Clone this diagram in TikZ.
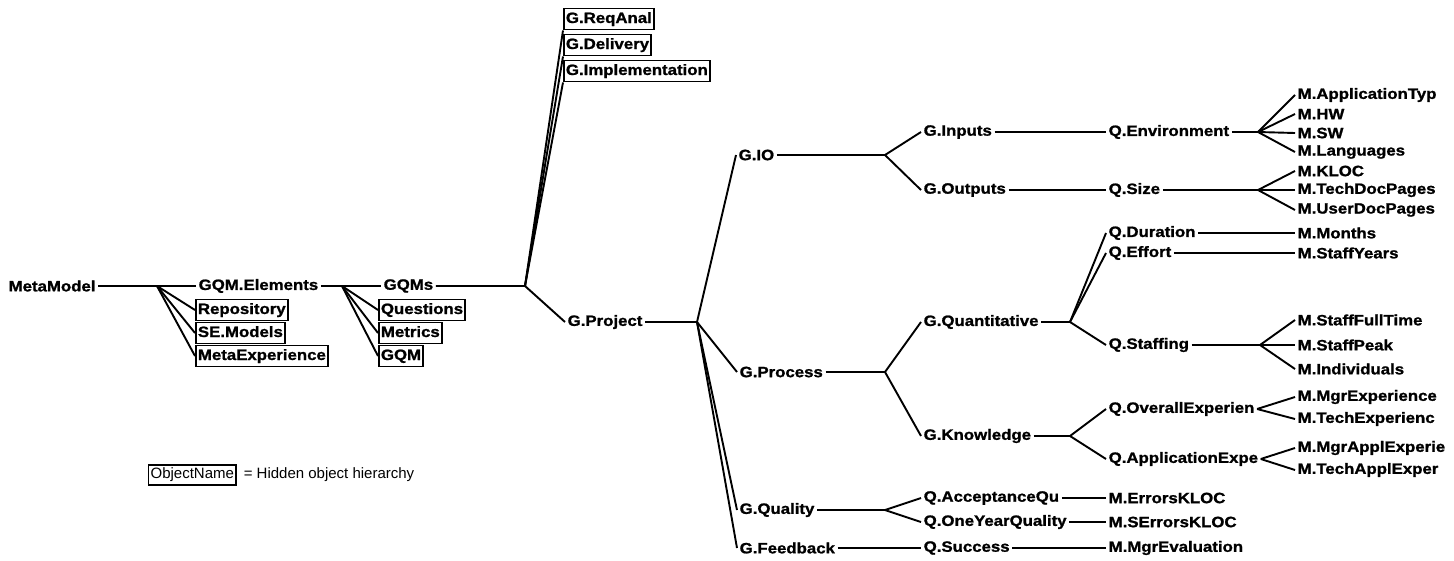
\documentclass[tikz,border=0pt]{standalone}
\usepackage{fontspec}
\newfontfamily\lblfont{Liberation Sans}[FakeStretch=1.12, BoldFeatures={FakeBold=1.2}]
\newfontfamily\legfont{Liberation Sans}
\begin{document}
\begin{tikzpicture}[x=1pt,y=-1pt,
  lbl/.style={anchor=west, inner xsep=2.5pt, inner ysep=1pt,
    font=\lblfont\bfseries\fontsize{15}{17}\selectfont},
  hid/.style={lbl, draw, line width=1.9pt, inner xsep=2pt,
    text height=11pt, text depth=3pt, inner ysep=3.5pt},
  wire/.style={line width=1.9pt, line join=round}]
\useasboundingbox (0,0) rectangle (1454,560);

% ---- meta level ----
\node[lbl] (meta) at (6,286) {MetaModel};
\coordinate (fA) at (157,286);
\node[lbl] (gqmel) at (196,286) {GQM.Elements};
\node[hid] (repo) at (195,310) {Repository};
\node[hid] (semod) at (195,333) {SE.Models};
\node[hid] (metaexp) at (195,356) {MetaExperience};

\coordinate (fB) at (342,286);
\node[lbl] (gqms) at (381,286) {GQMs};
\node[hid] (quest) at (378,310) {Questions};
\node[hid] (metr) at (378,333) {Metrics};
\node[hid] (gqmb) at (378,356) {GQM};

\coordinate (fC) at (525,286);
\node[hid] (reqanal) at (563,19) {G.ReqAnal};
\node[hid] (deliv) at (563,45) {G.Delivery};
\node[hid] (impl) at (563,71) {G.Implementation};
\node[lbl] (proj) at (565,322) {G.Project};

% ---- goals ----
\coordinate (fD) at (697,322);
\node[lbl] (gio) at (736,155) {G.IO};
\node[lbl] (proc) at (737,372) {G.Process};
\node[lbl] (qual) at (737,510) {G.Quality};
\node[lbl] (feed) at (737,548) {G.Feedback};

\coordinate (fE) at (885,155);
\node[lbl] (inp) at (921,132) {G.Inputs};
\node[lbl] (outp) at (921,190) {G.Outputs};
\coordinate (fH) at (885,372);
\node[lbl] (quant) at (921,322) {G.Quantitative};
\node[lbl] (know) at (921,436) {G.Knowledge};
\coordinate (fM) at (885,510);
\node[lbl] (accq) at (921,498) {Q.AcceptanceQu};
\node[lbl] (oneyq) at (921,522) {Q.OneYearQuality};
\node[lbl] (succ) at (921,548) {Q.Success};

% ---- questions ----
\node[lbl] (env) at (1106,132) {Q.Environment};
\node[lbl] (size) at (1106,190) {Q.Size};
\coordinate (fI) at (1070,322);
\node[lbl] (dur) at (1106,233) {Q.Duration};
\node[lbl] (eff) at (1106,253) {Q.Effort};
\node[lbl] (staff) at (1106,345) {Q.Staffing};
\coordinate (fK) at (1070,436);
\node[lbl] (overall) at (1106,409) {Q.OverallExperien};
\node[lbl] (applexp) at (1106,459) {Q.ApplicationExpe};
\node[lbl] (errk) at (1106,498) {M.ErrorsKLOC};
\node[lbl] (serrk) at (1106,522) {M.SErrorsKLOC};
\node[lbl] (mgrev) at (1106,548) {M.MgrEvaluation};

% ---- metrics ----
\coordinate (fF) at (1258,132);
\node[lbl] (apptype) at (1295,95) {M.ApplicationTyp};
\node[lbl] (hw) at (1295,114) {M.HW};
\node[lbl] (sw) at (1295,133) {M.SW};
\node[lbl] (lang) at (1295,152) {M.Languages};
\coordinate (fG) at (1258,190);
\node[lbl] (kloc) at (1295,171) {M.KLOC};
\node[lbl] (techdoc) at (1295,190) {M.TechDocPages};
\node[lbl] (userdoc) at (1295,210) {M.UserDocPages};
\node[lbl] (months) at (1295,233) {M.Months};
\node[lbl] (staffy) at (1295,253) {M.StaffYears};
\coordinate (fJ) at (1260,345);
\node[lbl] (sft) at (1295,320) {M.StaffFullTime};
\node[lbl] (speak) at (1295,345) {M.StaffPeak};
\node[lbl] (indiv) at (1295,369) {M.Individuals};
\node[lbl] (mgrexp) at (1295,397) {M.MgrExperience};
\node[lbl] (techexp) at (1295,419) {M.TechExperienc};
\node[lbl] (mgrappl) at (1295,448) {M.MgrApplExperie};
\node[lbl] (techappl) at (1295,470) {M.TechApplExper};

% ---- connectors ----
\draw[wire] (meta.east) -- (fA) -- (gqmel.west);
\foreach \t in {repo,semod,metaexp} \draw[wire] (fA) -- (\t.west);
\draw[wire] (gqmel.east) -- (fB) -- (gqms.west);
\foreach \t in {quest,metr,gqmb} \draw[wire] (fB) -- (\t.west);
\draw[wire] (gqms.east) -- (fC) -- (proj.west);
\foreach \t in {reqanal,deliv,impl} \draw[wire] (fC) -- (\t.south west);

\draw[wire] (proj.east) -- (fD);
\foreach \t in {gio,proc,qual,feed} \draw[wire] (fD) -- (\t.west);

\draw[wire] (gio.east) -- (fE);
\foreach \t in {inp,outp} \draw[wire] (fE) -- (\t.west);
\draw[wire] (proc.east) -- (fH);
\foreach \t in {quant,know} \draw[wire] (fH) -- (\t.west);
\draw[wire] (qual.east) -- (fM);
\foreach \t in {accq,oneyq} \draw[wire] (fM) -- (\t.west);
\draw[wire] (feed.east) -- (succ.west);

\draw[wire] (inp.east) -- (env.west);
\draw[wire] (outp.east) -- (size.west);
\draw[wire] (quant.east) -- (fI);
\foreach \t in {dur,eff,staff} \draw[wire] (fI) -- (\t.west);
\draw[wire] (know.east) -- (fK);
\foreach \t in {overall,applexp} \draw[wire] (fK) -- (\t.west);
\draw[wire] (accq.east) -- (errk.west);
\draw[wire] (oneyq.east) -- (serrk.west);
\draw[wire] (succ.east) -- (mgrev.west);

\draw[wire] (env.east) -- (fF);
\foreach \t in {apptype,hw,sw,lang} \draw[wire] (fF) -- (\t.west);
\draw[wire] (size.east) -- (fG);
\foreach \t in {kloc,techdoc,userdoc} \draw[wire] (fG) -- (\t.west);
\draw[wire] (dur.east) -- (months.west);
\draw[wire] (eff.east) -- (staffy.west);
\draw[wire] (staff.east) -- (fJ);
\foreach \t in {sft,speak,indiv} \draw[wire] (fJ) -- (\t.west);
\foreach \t in {mgrexp,techexp} \draw[wire] (overall.east) -- (\t.west);
\foreach \t in {mgrappl,techappl} \draw[wire] (applexp.east) -- (\t.west);

% ---- legend ----
\node[draw, line width=1.2pt, anchor=west, inner xsep=2pt, inner ysep=3pt,
  font=\legfont\fontsize{15}{17}\selectfont] (legbox) at (148,475) {ObjectName};
\node[anchor=west, inner xsep=2pt, font=\legfont\fontsize{15}{17}\selectfont]
  (legtext) at ([xshift=5pt]legbox.east) {= Hidden object hierarchy};
\end{tikzpicture}
\end{document}
